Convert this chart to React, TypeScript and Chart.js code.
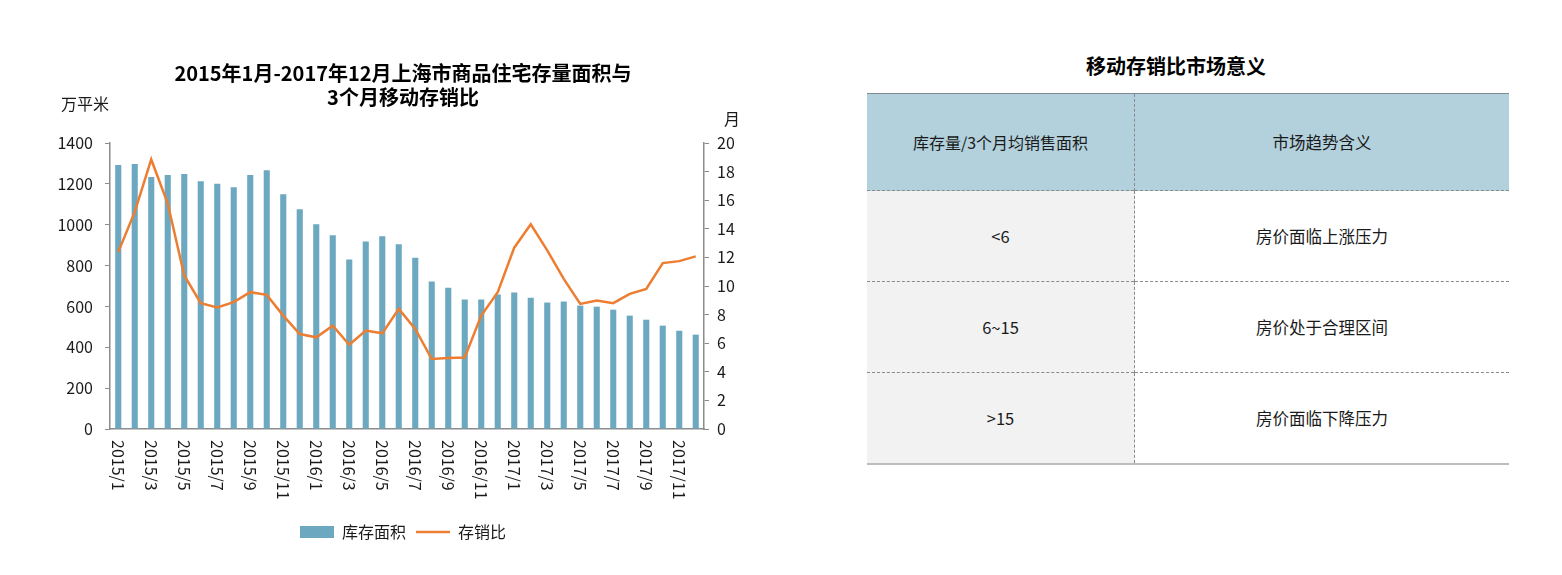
import React, { useEffect, useRef } from "react";
import { Chart, registerables } from "chart.js";

Chart.register(...registerables);

const FONT = '"Noto Sans CJK SC", "Noto Sans", sans-serif';

const categories = [
  "2015/1", "2015/2", "2015/3", "2015/4", "2015/5", "2015/6", "2015/7", "2015/8", "2015/9", "2015/10", "2015/11", "2015/12",
  "2016/1", "2016/2", "2016/3", "2016/4", "2016/5", "2016/6", "2016/7", "2016/8", "2016/9", "2016/10", "2016/11", "2016/12",
  "2017/1", "2017/2", "2017/3", "2017/4", "2017/5", "2017/6", "2017/7", "2017/8", "2017/9", "2017/10", "2017/11", "2017/12",
];

const stockArea = [
  1292, 1297, 1233, 1243, 1248, 1213, 1200, 1184, 1243, 1267, 1149, 1076,
  1002, 948, 830, 918, 943, 904, 838, 722, 692, 634, 634, 658,
  668, 643, 619, 624, 604, 599, 584, 555, 535, 506, 481, 462,
];

const stockRatio = [
  12.37, 15.18, 18.85, 15.77, 10.74, 8.8, 8.5, 8.87, 9.57, 9.38, 7.93, 6.64,
  6.41, 7.23, 5.89, 6.88, 6.69, 8.4, 7.0, 4.89, 4.96, 5.0, 7.93, 9.57,
  12.68, 14.32, 12.49, 10.5, 8.75, 8.98, 8.8, 9.45, 9.8, 11.6, 11.74, 12.07,
];

const seriesNames = ["库存面积", "存销比"];
const chartTitle = ["2015年1月-2017年12月上海市商品住宅存量面积与", "3个月移动存销比"];
const leftUnit = "万平米";
const rightUnit = "月";

const tableTitle = "移动存销比市场意义";
const tableHeader = ["库存量/3个月均销售面积", "市场趋势含义"];
const tableRanges = ["<6", "6~15", ">15"];
const tableMeanings = ["房价面临上涨压力", "房价处于合理区间", "房价面临下降压力"];

const BAR_COLOR = "#6ca9c1";
const LINE_COLOR = "#ed7d31";
const AXIS_COLOR = "#8c8c8c";
const TEXT_COLOR = "#1a1a1a";

const customLabels = {
  id: "customLabels",
  afterDraw(chart: any) {
    const { ctx, chartArea, scales } = chart;
    const xs = scales.x;
    ctx.save();
    ctx.fillStyle = TEXT_COLOR;
    ctx.font = `16px ${FONT}`;
    categories.forEach((c, i) => {
      if (i % 2 !== 0) return;
      const px = xs.getPixelForValue(i);
      ctx.save();
      ctx.translate(px, xs.top + 11);
      ctx.rotate(Math.PI / 2);
      ctx.textAlign = "left";
      ctx.textBaseline = "middle";
      ctx.fillText(c, 0, 0);
      ctx.restore();
    });
    ctx.textAlign = "center";
    ctx.textBaseline = "middle";
    ctx.fillText(leftUnit, chartArea.left - 25, chartArea.top - 39);
    ctx.fillText(rightUnit, chartArea.right + 28, chartArea.top - 24);
    ctx.restore();
  },
};

function ChartPanel() {
  const ref = useRef<HTMLCanvasElement | null>(null);
  useEffect(() => {
    if (!ref.current) return;
    const chart = new Chart(ref.current, {
      type: "bar",
      data: {
        labels: categories,
        datasets: [
          {
            type: "bar",
            label: seriesNames[0],
            data: stockArea,
            backgroundColor: BAR_COLOR,
            borderWidth: 0,
            barPercentage: 0.37,
            categoryPercentage: 1,
            yAxisID: "y",
            pointStyle: "rect",
            order: 2,
          } as any,
          {
            type: "line",
            label: seriesNames[1],
            data: stockRatio,
            borderColor: LINE_COLOR,
            backgroundColor: LINE_COLOR,
            borderWidth: 2.5,
            pointRadius: 0,
            pointHoverRadius: 0,
            tension: 0,
            yAxisID: "y1",
            pointStyle: "line",
            order: 1,
          } as any,
        ],
      },
      options: {
        responsive: true,
        maintainAspectRatio: false,
        animation: false,
        layout: { padding: { top: 0, bottom: 17, left: 0, right: 0 } },
        plugins: {
          title: {
            display: true,
            text: chartTitle,
            color: "#000",
            font: { family: FONT, size: 20, weight: "bold", lineHeight: 1.2 },
            padding: { top: 53, bottom: 34 },
          },
          legend: {
            display: true,
            position: "bottom",
            labels: {
              usePointStyle: true,
              pointStyleWidth: 34,
              boxWidth: 34,
              boxHeight: 12,
              color: TEXT_COLOR,
              font: { family: FONT, size: 16 },
              padding: 10,
              sort: (a: any, b: any) => a.datasetIndex - b.datasetIndex,
            },
          },
          tooltip: { enabled: false },
        },
        scales: {
          x: {
            offset: true,
            grid: { display: false },
            border: { display: true, color: AXIS_COLOR, width: 1.5 },
            ticks: { display: false },
            afterFit(scale: any) {
              scale.height = 85;
            },
          },
          y: {
            position: "left",
            min: 0,
            max: 1400,
            ticks: {
              stepSize: 200,
              color: TEXT_COLOR,
              font: { family: FONT, size: 16 },
              padding: 12,
              callback: (v: any) => String(v),
            },
            grid: { display: true, drawOnChartArea: false, drawTicks: true, tickLength: 5, color: AXIS_COLOR },
            border: { display: true, color: AXIS_COLOR, width: 1.5 },
            afterFit(scale: any) {
              scale.width = 102;
            },
          },
          y1: {
            position: "right",
            min: 0,
            max: 20,
            ticks: {
              stepSize: 2,
              color: TEXT_COLOR,
              font: { family: FONT, size: 16 },
              padding: 8,
              callback: (v: any) => String(v),
            },
            grid: { display: true, drawOnChartArea: false, drawTicks: true, tickLength: 5, color: AXIS_COLOR },
            border: { display: true, color: AXIS_COLOR, width: 1.5 },
            afterFit(scale: any) {
              scale.width = 94;
            },
          },
        },
      } as any,
      plugins: [customLabels],
    });
    return () => chart.destroy();
  }, []);
  return (
    <div style={{ position: "absolute", left: 0, top: 0, width: 790, height: 559 }}>
      <canvas ref={ref} />
    </div>
  );
}

function MeaningTable() {
  const cellBase: React.CSSProperties = {
    textAlign: "center",
    verticalAlign: "middle",
    fontSize: 16.5,
    color: TEXT_COLOR,
    padding: 0,
  };
  return (
    <>
      <div
        style={{
          position: "absolute",
          left: 1068,
          top: 43,
          width: 200,
          textAlign: "center",
          fontFamily: FONT,
          fontWeight: "bold",
          fontSize: 20,
          color: "#000",
        }}
      >
        {tableTitle}
      </div>
      <table
        style={{
          position: "absolute",
          left: 859,
          top: 85,
          width: 642,
          borderCollapse: "collapse",
          fontFamily: FONT,
          borderTop: "1.5px solid #7f8a90",
          borderBottom: "2px solid #bdbdbd",
        }}
      >
        <tbody>
          <tr style={{ height: 97, background: "#b2d1dc" }}>
            <td style={{ ...cellBase, fontSize: 16, width: 267, borderRight: "1px dashed #8a8a8a" }}>{tableHeader[0]}</td>
            <td style={{ ...cellBase, fontSize: 16.5 }}>{tableHeader[1]}</td>
          </tr>
          {tableRanges.map((r, i) => (
            <tr key={r} style={{ height: 91 }}>
              <td
                style={{
                  ...cellBase,
                  background: "#f2f2f2",
                  borderRight: "1px dashed #8a8a8a",
                  borderTop: "1px dashed #8a8a8a",
                }}
              >
                {r}
              </td>
              <td style={{ ...cellBase, background: "#fff", borderTop: "1px dashed #8a8a8a" }}>{tableMeanings[i]}</td>
            </tr>
          ))}
        </tbody>
      </table>
    </>
  );
}

export default function App() {
  return (
    <div style={{ position: "relative", width: 1546, height: 559, fontFamily: FONT }}>
      <ChartPanel />
      <MeaningTable />
    </div>
  );
}
